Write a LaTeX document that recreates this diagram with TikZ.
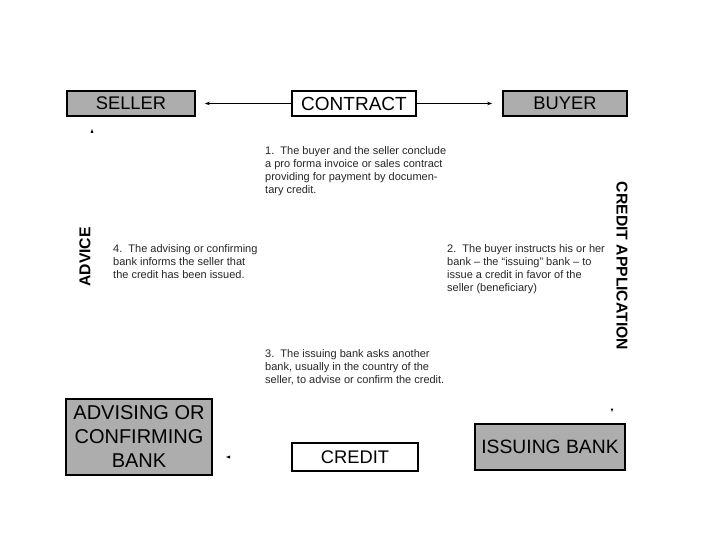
\documentclass[tikz,border=0pt]{standalone}
\usepackage{fontspec}
\setmainfont{Liberation Sans}
\usetikzlibrary{arrows.meta}
\begin{document}
\begin{tikzpicture}[x=1pt,y=-1pt,
  graybox/.style={draw=black, line width=1.6pt, fill=black!32, inner sep=0pt, text=black, align=center},
  whitebox/.style={draw=black, line width=1.2pt, fill=white, inner sep=0pt, text=black},
  note/.style={align=left, font=\fontsize{11}{13}\selectfont, anchor=north west, inner sep=0pt, text=black!85},
  sidelabel/.style={font=\fontsize{15.7}{18}\selectfont\bfseries, inner sep=0pt, text=black},
  arr/.style={line width=0.8pt, -{Stealth[length=5pt,width=3.5pt]}}]
\useasboundingbox (0,0) rectangle (720,540);

% boxes
\node[graybox, minimum width=128pt, minimum height=25pt, font=\fontsize{18.3}{20}\selectfont] (seller) at (131,103.5) {SELLER};
\node[whitebox, minimum width=124pt, minimum height=25pt, font=\fontsize{19}{21}\selectfont] (contract) at (354,103.5) {CONTRACT};
\node[graybox, minimum width=124pt, minimum height=25pt, font=\fontsize{18.3}{20}\selectfont] (buyer) at (565,103.5) {BUYER};
\node[graybox, minimum width=146pt, minimum height=76pt, font=\fontsize{20}{24}\selectfont] (advising) at (139,437) {ADVISING OR\\CONFIRMING\\BANK};
\node[whitebox, minimum width=126pt, minimum height=28pt, font=\fontsize{18.3}{20}\selectfont] (credit) at (355,457) {CREDIT};
\node[graybox, minimum width=150pt, minimum height=46pt, font=\fontsize{19.3}{21}\selectfont] (issuing) at (550,447) {ISSUING BANK};

% side labels
\node[sidelabel, rotate=90] (advice) at (85,257) {ADVICE};
\node[sidelabel, rotate=-90] (creditapp) at (622,266) {CREDIT APPLICATION};

% notes
\node[note] (n1) at (265,146) {1.\ \ The buyer and the seller conclude\\a pro forma invoice or sales contract\\providing for payment by documen-\\tary credit.};
\node[note] (n4) at (113,244) {4.\ \ The advising or confirming\\bank informs the seller that\\the credit has been issued.};
\node[note] (n2) at (447,244) {2.\ \ The buyer instructs his or her\\bank – the “issuing” bank – to\\issue a credit in favor of the\\seller (beneficiary)};
\node[note] (n3) at (265,349) {3.\ \ The issuing bank asks another\\bank, usually in the country of the\\seller, to advise or confirm the credit.};

% connectors
\draw[arr, shorten >=9pt] (contract) -- (seller);
\draw[arr, shorten >=10pt] (contract) -- (buyer);

% stray arrow tips
\fill (92,129) -- (90.6,133) -- (93.4,133) -- cycle;
\fill (612,412) -- (610.8,408.5) -- (613.2,408.5) -- cycle;
\fill (226,457) -- (230,455.5) -- (230,458.5) -- cycle;
\end{tikzpicture}
\end{document}
